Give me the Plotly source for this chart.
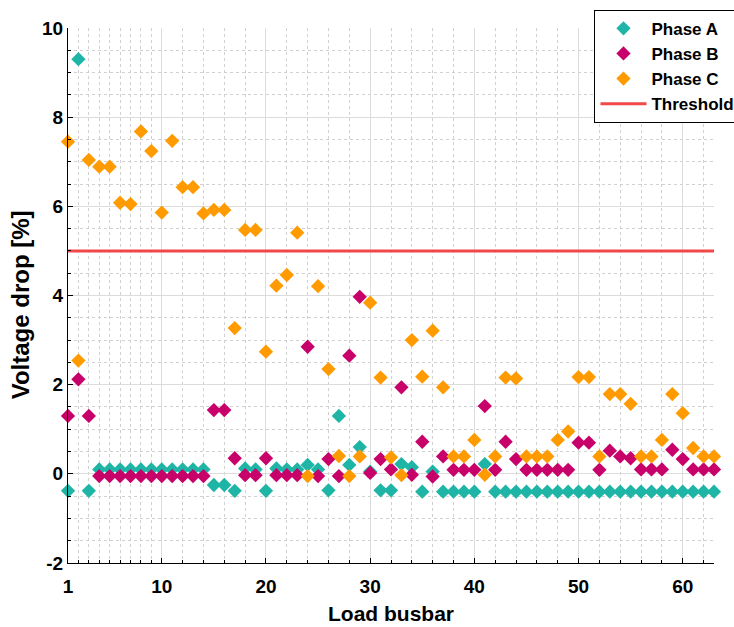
import plotly.graph_objects as go

bus = list(range(1, 64))

phase_a = [-0.38, 9.3, -0.38, 0.1, 0.1, 0.1, 0.1, 0.1, 0.1, 0.1,
           0.1, 0.1, 0.1, 0.1, -0.25, -0.25, -0.38, 0.12, 0.1, -0.38,
           0.12, 0.1, 0.1, 0.2, 0.1, -0.37, 1.3, 0.2, 0.6, 0.05,
           -0.37, -0.37, 0.22, 0.15, -0.4, 0.05, -0.4, -0.4, -0.4, -0.4,
           0.22, -0.4, -0.4, -0.4, -0.4, -0.4, -0.4, -0.4, -0.4, -0.4,
           -0.4, -0.4, -0.4, -0.4, -0.4, -0.4, -0.4, -0.4, -0.4, -0.4,
           -0.4, -0.4, -0.4]

phase_b = [1.3, 2.12, 1.3, -0.05, -0.05, -0.05, -0.05, -0.05, -0.05, -0.05,
           -0.05, -0.05, -0.05, -0.05, 1.43, 1.43, 0.35, -0.03, -0.03, 0.35,
           -0.03, -0.03, -0.03, 2.85, -0.05, 0.33, -0.05, 2.65, 3.97, 0.02,
           0.33, 0.1, 1.94, -0.02, 0.72, -0.06, 0.39, 0.09, 0.09, 0.09,
           1.52, 0.09, 0.72, 0.33, 0.09, 0.09, 0.09, 0.09, 0.09, 0.7,
           0.7, 0.09, 0.52, 0.39, 0.35, 0.1, 0.1, 0.1, 0.54, 0.33,
           0.1, 0.1, 0.1]

phase_c = [7.45, 2.54, 7.04, 6.89, 6.89, 6.08, 6.05, 7.68, 7.24, 5.86,
           7.47, 6.43, 6.43, 5.84, 5.92, 5.92, 3.27, 5.47, 5.47, 2.74,
           4.22, 4.46, 5.41, -0.05, 4.21, 2.35, 0.4, -0.05, 0.39, 3.84,
           2.16, 0.37, -0.03, 3.0, 2.18, 3.21, 1.94, 0.39, 0.39, 0.76,
           -0.02, 0.39, 2.16, 2.14, 0.39, 0.39, 0.39, 0.76, 0.95, 2.17,
           2.17, 0.39, 1.79, 1.79, 1.57, 0.39, 0.39, 0.76, 1.79, 1.36,
           0.58, 0.39, 0.39]

threshold = 5

x_ticks = [1, 10, 20, 30, 40, 50, 60]
y_ticks = [-2, 0, 2, 4, 6, 8, 10]
y_ticktext = ["-2", "0", "2", "4", "6", "8", "10"]
x_minor = [2, 3, 4, 5, 6, 7, 8, 9] + [v for v in range(12, 63, 2) if v % 10 != 0]
y_minor = [v / 2 for v in range(-4, 21) if v % 4 != 0]

FONT = "Liberation Sans, Arial, sans-serif"
teal = "#1FB5A6"
magenta = "#C8006A"
orange = "#FF9A00"
red = "#F24848"

fig = go.Figure()
for name, vals, col in [("Phase A", phase_a, teal),
                        ("Phase B", phase_b, magenta),
                        ("Phase C", phase_c, orange)]:
    fig.add_trace(go.Scatter(
        x=bus, y=vals, mode="markers", name=name, cliponaxis=False,
        marker=dict(symbol="diamond", size=11, color=col, line=dict(width=0))))

fig.add_trace(go.Scatter(
    x=[bus[0], bus[-1]], y=[threshold, threshold], mode="lines",
    name="Threshold", line=dict(color=red, width=3)))

axis_common = dict(
    showline=True, linecolor="black", linewidth=1, mirror=False,
    ticks="inside", ticklen=5, tickcolor="black", zeroline=False,
    showgrid=True, gridcolor="#DCDCDC", gridwidth=1,
    tickfont=dict(family=FONT, size=19, color="black", weight="bold"),
)

fig.update_layout(
    width=734, height=627,
    margin=dict(l=68, r=20, t=28, b=64, autoexpand=False),
    paper_bgcolor="white", plot_bgcolor="white",
    font=dict(family=FONT, color="black"),
    xaxis=dict(
        range=[1, 63], tickmode="array", tickvals=x_ticks,
        ticklabelstandoff=6,
        title=dict(text="Load busbar", standoff=10,
                   font=dict(family=FONT, size=21, weight="bold", color="black")),
        minor=dict(tickmode="array", tickvals=x_minor, showgrid=True,
                   gridcolor="#D0D0D0", griddash="dot", gridwidth=1,
                   ticks="inside", ticklen=3, tickcolor="black"),
        **axis_common),
    yaxis=dict(
        range=[-2, 10], tickmode="array", tickvals=y_ticks, ticktext=y_ticktext,
        minor=dict(tickmode="array", tickvals=y_minor, showgrid=True,
                   gridcolor="#D0D0D0", griddash="dot", gridwidth=1,
                   ticks="inside", ticklen=3, tickcolor="black"),
        **axis_common),
    annotations=[dict(
        text="Voltage drop [%]", textangle=-90, showarrow=False,
        xref="paper", yref="paper", x=-0.074, y=0.482,
        xanchor="center", yanchor="middle",
        font=dict(family=FONT, size=24, weight="bold", color="black"))],
    legend=dict(
        x=0.815, y=1.034, xanchor="left", yanchor="top",
        bgcolor="white", bordercolor="black", borderwidth=1,
        font=dict(family=FONT, size=17, weight="bold", color="black"),
        itemwidth=46, tracegroupgap=0,
    ),
    showlegend=True,
)

fig.write_html("out.html")
